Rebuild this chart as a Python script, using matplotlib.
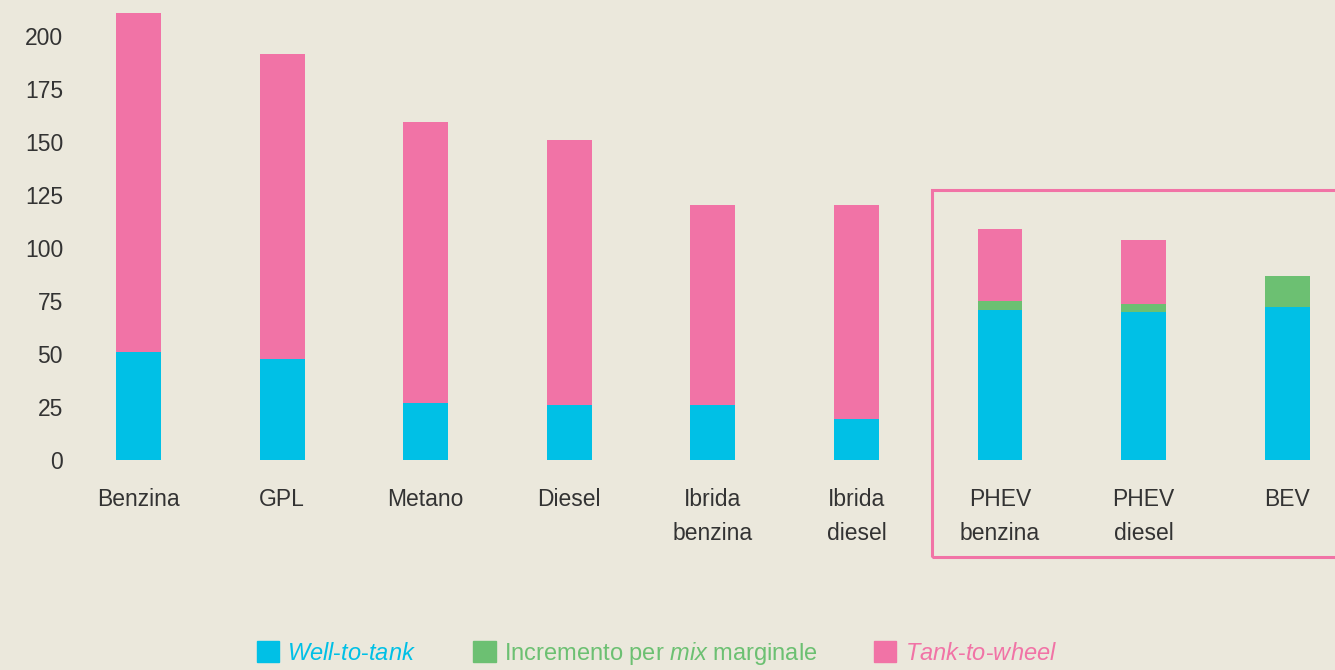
import numpy as np
import matplotlib
matplotlib.use('Agg')
import matplotlib.pyplot as plt
from matplotlib.patches import Rectangle, Patch

plt.rcParams['font.family'] = ['Liberation Sans', 'DejaVu Sans']
plt.rcParams['mathtext.fontset'] = 'custom'
plt.rcParams['mathtext.it'] = 'Liberation Sans:italic'
plt.rcParams['mathtext.rm'] = 'Liberation Sans'

# data (g CO2/km)
categories = ['Benzina', 'GPL', 'Metano', 'Diesel', 'Ibrida\nbenzina', 'Ibrida\ndiesel',
              'PHEV\nbenzina', 'PHEV\ndiesel', 'BEV']
well_to_tank = [51, 47.5, 27, 26, 26, 19.5, 71, 70, 72]
mix_marginale = [0, 0, 0, 0, 0, 0, 4, 3.5, 15]
tank_to_wheel = [160, 144, 132.5, 125, 94.5, 101, 34, 30.5, 0]
yticks = [0, 25, 50, 75, 100, 125, 150, 175, 200]

BG = '#EBE8DC'
BLUE = '#00C0E6'
GREEN = '#6CC072'
PINK = '#F173A6'
TXT = '#333333'

fig = plt.figure(figsize=(13.35, 6.7), dpi=100, facecolor=BG)
# axes placed in pixels: left 70, right 1335, y from 0 to 470
ax = fig.add_axes([70 / 1335, 1 - 470 / 670, 1 - 70 / 1335, 470 / 670])
ax.set_facecolor(BG)

x = np.arange(len(categories))
w = 0.313
wtt = np.array(well_to_tank)
mix = np.array(mix_marginale)
ttw = np.array(tank_to_wheel)
ax.bar(x, wtt, w, color=BLUE)
ax.bar(x, mix, w, bottom=wtt, color=GREEN)
ax.bar(x, ttw, w, bottom=wtt + mix, color=PINK)

ax.set_xlim(-0.477, 8.333)
ax.set_ylim(-4.7, 217)
for s in ax.spines.values():
    s.set_visible(False)
ax.set_yticks(yticks)
ax.set_xticks(x)
ax.set_xticklabels(categories, fontsize=16.5, color=TXT, linespacing=1.6, va='top')
ax.tick_params(axis='both', length=0, labelsize=16.5, labelcolor=TXT)
ax.tick_params(axis='x', pad=13)
ax.tick_params(axis='y', pad=5)

# box around plug-in / electric group
box = Rectangle((5.526, -45.8), 3.5, 173.2, fill=False, edgecolor=PINK, lw=2.2, clip_on=False)
ax.add_patch(box)

# legend
handles = [Patch(color=BLUE), Patch(color=GREEN), Patch(color=PINK)]
labels = [r'$\mathit{Well}$-$\mathit{to}$-$\mathit{tank}$',
          r'Incremento per $\mathit{mix}$ marginale',
          r'$\mathit{Tank}$-$\mathit{to}$-$\mathit{wheel}$']
leg = fig.legend(handles, labels, loc='lower center', bbox_to_anchor=(0.492, -0.027),
                 ncol=3, frameon=False, fontsize=17, handlelength=0.95, handleheight=1.0,
                 handletextpad=0.35, columnspacing=2.4)
for t, c in zip(leg.get_texts(), [BLUE, GREEN, PINK]):
    t.set_color(c)

fig.savefig('out.png', dpi=100, facecolor=BG)
